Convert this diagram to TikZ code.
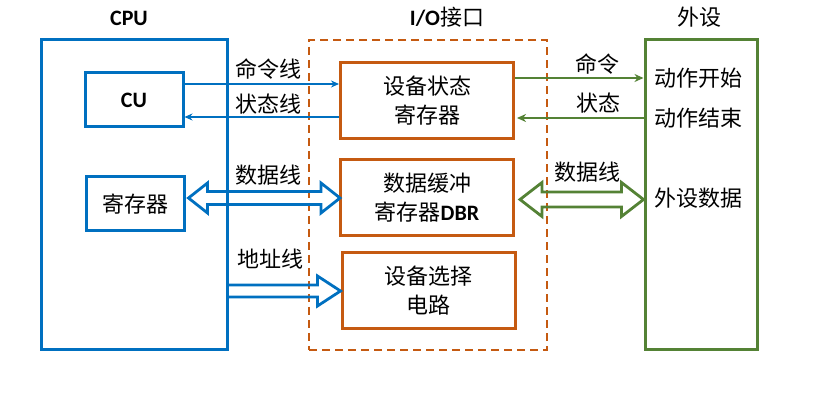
\documentclass[tikz,border=0pt]{standalone}
\usepackage{fontspec}
\setmainfont{Noto Sans CJK SC}
\newfontfamily\lat{Carlito}
\usetikzlibrary{calc,arrows.meta}
\definecolor{cblue}{RGB}{0,112,192}
\definecolor{cbrown}{RGB}{197,90,17}
\definecolor{cgreen}{RGB}{84,130,53}
\newcommand\mydblarrow[6]{% style, A, B, L, h, s
  \draw[#1] (#2) -- ($(#2)+(#4,#5)$) -- ($(#2)+(#4,#6)$) -- ($(#3)+(-#4,#6)$) -- ($(#3)+(-#4,#5)$) -- (#3)
    -- ($(#3)+(-#4,-#5)$) -- ($(#3)+(-#4,-#6)$) -- ($(#2)+(#4,-#6)$) -- ($(#2)+(#4,-#5)$) -- cycle;}
\begin{document}
\begin{tikzpicture}[x=1pt,y=-1pt,
  every node/.style={font=\fontsize{22}{29}\selectfont, inner sep=0pt},
  bbox/.style={draw=cblue, line width=3pt, minimum width=#1},
  obox/.style={draw=cbrown, line width=3pt, minimum width=173pt, minimum height=76pt, align=center},
  gbox/.style={draw=cgreen, line width=3pt},
  iobox/.style={draw=cbrown, line width=2.4pt, dash pattern=on 8pt off 5pt},
  barrow/.style={draw=cblue, line width=2pt, -{Stealth[length=8pt,width=7pt]}},
  garrow/.style={draw=cgreen, line width=2.5pt, -{Stealth[length=9pt,width=8pt]}},
  bhollow/.style={draw=cblue, line width=2.8pt, line join=miter},
  ghollow/.style={draw=cgreen, line width=2.8pt, line join=miter},
  lbl/.style={anchor=center}]
\useasboundingbox (0,0) rectangle (831,406);
% titles
\node[lbl] (cpuT) at (129,18) {\lat\bfseries CPU};
\node[lbl] (ioT) at (447,17) {{\lat\bfseries I/O}接口};
\node[lbl] (perT) at (699,17) {外设};
% CPU
\node[bbox=186pt, minimum height=310pt] (cpu) at (134,195) {};
\node[bbox=98pt, minimum height=54pt] (cu) at (134,100) {\lat\bfseries CU};
\node[bbox=98pt, minimum height=54pt] (reg) at (135,204) {寄存器};
% I/O
\node[iobox, minimum width=238pt, minimum height=310pt] (io) at (428,195) {};
\node[obox] (dsr) at (427,100.5) {设备状态\\寄存器};
\node[obox] (dbr) at (427,198) {数据缓冲\\寄存器{\lat\bfseries DBR}};
\node[obox] (sel) at (428.5,290.5) {设备选择\\电路};
% peripheral
\node[gbox, minimum width=112pt, minimum height=310pt] (per) at (701,195) {};
\node (t1) at (698,78) {动作开始};
\node (t2) at (698,118) {动作结束};
\node (t3) at (698,198) {外设数据};
% blue thin lines
\coordinate (c1) at ($(cu.east)+(0,-16)$);
\coordinate (c2) at ($(cu.east)+(0,17)$);
\draw[barrow] (c1) -- (c1 -| dsr.west);
\draw[barrow] (c2 -| dsr.west) -- (c2);
\node (l1) at (268,69) {命令线};
\node (l2) at (268,104) {状态线};
% blue data arrow
\coordinate (bd1) at ($(reg.east |- dbr.west)+(3,0)$);
\coordinate (bd2) at ($(dbr.west)+(1,0)$);
\mydblarrow{bhollow}{bd1}{bd2}{19}{15}{6.5}
\node (l3) at (268,175) {数据线};
% address arrow
\coordinate (a1) at ($(cpu.east |- sel.west)+(0,0.5)$);
\coordinate (a2) at ($(sel.west)+(0,0.5)$);
\draw[bhollow] ($(a1)+(0,-6)$) -- ($(a2)+(-23,-6)$) -- ($(a2)+(-23,-15)$) -- (a2) -- ($(a2)+(-23,15)$) -- ($(a2)+(-23,6)$) -- ($(a1)+(0,6)$);
\node (l4) at (270,259) {地址线};
% green lines
\coordinate (g1) at ($(dsr.east)+(0,-22.5)$);
\coordinate (g2) at ($(dsr.east)+(2,17.5)$);
\draw[garrow] (g1) -- (g1 -| per.west);
\draw[garrow] (g2 -| per.west) -- (g2);
\node (l5) at (597,64) {命令};
\node (l6) at (598,103) {状态};
% green data arrow
\coordinate (gd1) at ($(dbr.east)+(5,1.5)$);
\coordinate (gd2) at (gd1 -| per.west);
\mydblarrow{ghollow}{gd1}{gd2}{22}{17}{7.5}
\node (l7) at (587,172) {数据线};
\end{tikzpicture}
\end{document}
